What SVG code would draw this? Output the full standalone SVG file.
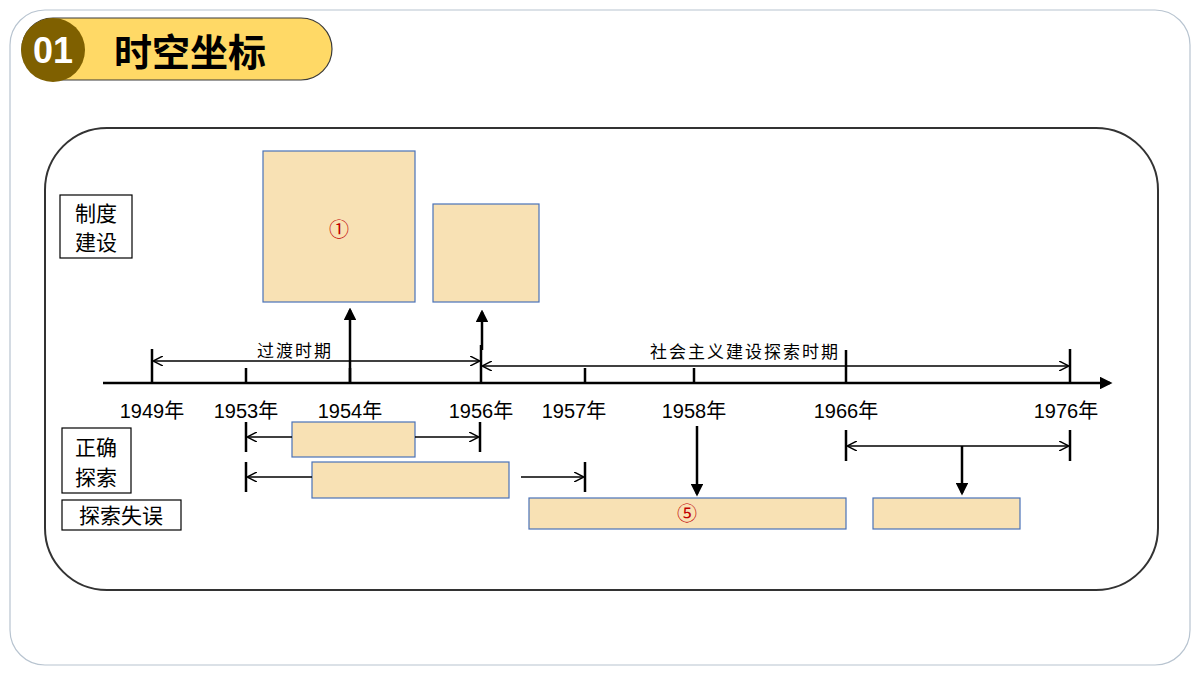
<svg xmlns="http://www.w3.org/2000/svg" width="1200" height="675" viewBox="0 0 1200 675">
<defs>
<marker id="ah" viewBox="0 0 10 10" refX="9" refY="5" markerWidth="10" markerHeight="10" markerUnits="userSpaceOnUse" orient="auto-start-reverse"><path d="M0,0 L10,5 L0,10" fill="none" stroke="#000" stroke-width="1.5"/></marker>
<marker id="af" viewBox="0 0 10 10" refX="8" refY="5" markerWidth="5" markerHeight="5" orient="auto"><path d="M0,0 L10,5 L0,10 Z" fill="#000"/></marker>
</defs>
<style>
.t{font-family:"Noto Sans CJK SC","Liberation Sans",sans-serif;fill:#000}
.y{font-family:"Liberation Sans","Noto Sans CJK SC",sans-serif;font-size:20px;text-anchor:middle}
.b{fill:#F8E1B4;stroke:#4A72B8;stroke-width:1.2}
.l{stroke:#000;stroke-width:1.5;fill:none}
.k{stroke:#000;stroke-width:2.5;fill:none}
.lb{fill:#fff;stroke:#000;stroke-width:1.2}
</style>
<rect width="1200" height="675" fill="#fff"/>
<rect x="10" y="10" width="1180" height="655" rx="35" fill="none" stroke="#B8C4D0" stroke-width="1.2"/>
<g id="header">
<rect x="22" y="18" width="310" height="62" rx="31" fill="#FFD966" stroke="#3a3a3a" stroke-width="1.2"/>
<circle cx="53" cy="50" r="32" fill="#7F6000"/>
<text x="53" y="63" font-family="Liberation Sans,sans-serif" font-weight="bold" font-size="36" fill="#fff" text-anchor="middle">01</text>
<text class="t" x="114" y="66" font-size="38" font-weight="bold">时空坐标</text>
</g>
<rect x="45" y="128" width="1113" height="462" rx="62" fill="none" stroke="#333" stroke-width="2"/>
<g id="labels">
<rect class="lb" x="60" y="195" width="72" height="63"/>
<text class="t" x="96" y="221" font-size="21" text-anchor="middle">制度</text>
<text class="t" x="96" y="250" font-size="21" text-anchor="middle">建设</text>
<rect class="lb" x="62" y="428" width="69" height="65"/>
<text class="t" x="96" y="455" font-size="21" text-anchor="middle">正确</text>
<text class="t" x="96" y="485" font-size="21" text-anchor="middle">探索</text>
<rect class="lb" x="62" y="500" width="119" height="30"/>
<text class="t" x="121" y="523" font-size="21" text-anchor="middle">探索失误</text>
</g>
<g id="boxes">
<rect class="b" x="263" y="151" width="152" height="151"/>
<text x="339" y="237" font-family="Noto Sans CJK SC,sans-serif" font-size="20" fill="#C00000" text-anchor="middle">①</text>
<rect class="b" x="433" y="204" width="106" height="98"/>
<rect class="b" x="292" y="422" width="123" height="35"/>
<rect class="b" x="312" y="462" width="197" height="36"/>
<rect class="b" x="529" y="498" width="317" height="31"/>
<text x="687" y="521" font-family="Noto Sans CJK SC,sans-serif" font-size="20" fill="#C00000" text-anchor="middle">⑤</text>
<rect class="b" x="873" y="498" width="147" height="31"/>
</g>
<g id="connectors">
<line class="k" x1="103" y1="383" x2="1110" y2="383" marker-end="url(#af)"/>
<path class="k" d="M152,349V383M246,368V383M350,368V383M481,345V383M585,368V383M694,368V383M846,350V383M1070,349V383"/>
<line class="k" x1="350" y1="383" x2="350" y2="310" marker-end="url(#af)"/>
<line class="k" x1="482" y1="350" x2="482" y2="312" marker-end="url(#af)"/>
<line class="l" x1="154" y1="361" x2="479" y2="361" marker-start="url(#ah)" marker-end="url(#ah)"/>
<line class="l" x1="483" y1="366" x2="1068" y2="366" marker-start="url(#ah)" marker-end="url(#ah)"/>
<path class="k" d="M246,422V452M480,422V452M246,462V492M585,462V492M846,430V461M1070,430V461"/>
<line class="l" x1="248" y1="437" x2="292" y2="437" marker-start="url(#ah)"/>
<line class="l" x1="415" y1="437" x2="478" y2="437" marker-end="url(#ah)"/>
<line class="l" x1="248" y1="477" x2="312" y2="477" marker-start="url(#ah)"/>
<line class="l" x1="521" y1="477" x2="583" y2="477" marker-end="url(#ah)"/>
<line class="l" x1="848" y1="446" x2="1068" y2="446" marker-start="url(#ah)" marker-end="url(#ah)"/>
<line class="k" x1="697" y1="426" x2="697" y2="494" stroke-width="2" marker-end="url(#af)"/>
<line class="k" x1="962" y1="446" x2="962" y2="493" stroke-width="2" marker-end="url(#af)"/>
</g>
<g id="texts">
<text class="t" x="295" y="357" font-size="17" text-anchor="middle" letter-spacing="2">过渡时期</text>
<text class="t" x="745" y="358" font-size="17" text-anchor="middle" letter-spacing="2">社会主义建设探索时期</text>
<text class="y" x="152" y="418">1949年</text>
<text class="y" x="246" y="418">1953年</text>
<text class="y" x="350" y="418">1954年</text>
<text class="y" x="481" y="418">1956年</text>
<text class="y" x="574" y="418">1957年</text>
<text class="y" x="694" y="418">1958年</text>
<text class="y" x="846" y="418">1966年</text>
<text class="y" x="1066" y="418">1976年</text>
</g>
</svg>
